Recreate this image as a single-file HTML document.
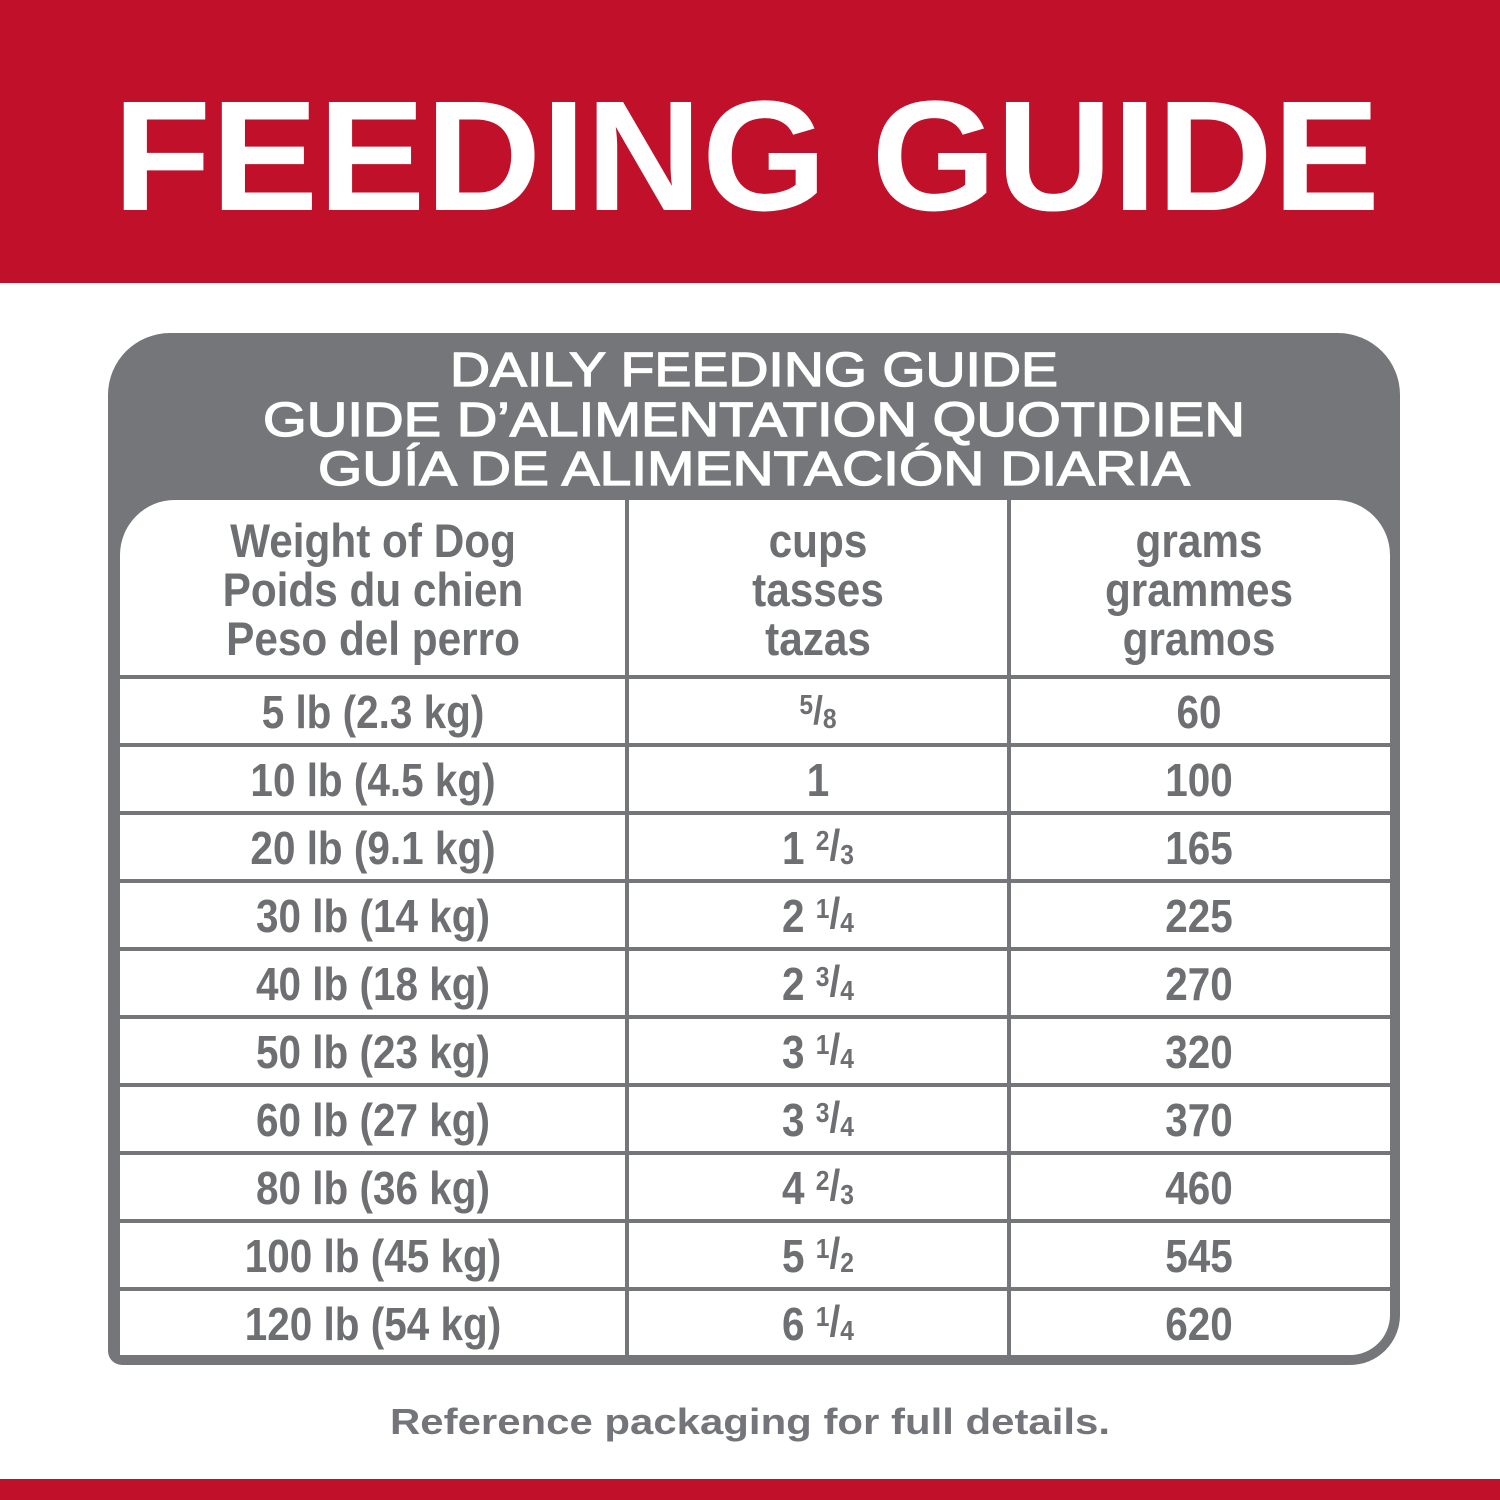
<!DOCTYPE html>
<html><head><meta charset="utf-8"><style>
html,body{margin:0;padding:0;background:#fff;}
svg{display:block;}
.t{font-family:"Liberation Sans",sans-serif;font-weight:bold;fill:#6e6f72;font-size:46px;}
.h{font-family:"Liberation Sans",sans-serif;font-weight:bold;fill:#6e6f72;font-size:47px;}
</style></head><body>
<svg width="1500" height="1500" viewBox="0 0 1500 1500" xmlns="http://www.w3.org/2000/svg">
<rect x="0" y="0" width="1500" height="283" fill="#c1112a"/>
<text x="113" y="210" font-family="Liberation Sans, sans-serif" font-weight="bold" font-size="157" fill="#fff" textLength="1267" lengthAdjust="spacingAndGlyphs">FEEDING GUIDE</text>
<rect x="0" y="1479" width="1500" height="21" fill="#c1112a"/>

<path d="M170 333 H1338 A62 62 0 0 1 1400 395 V1315 A50 50 0 0 1 1350 1365 H122 A14 14 0 0 1 108 1351 V395 A62 62 0 0 1 170 333 Z" fill="#75767a"/>
<path d="M175 500 H1335 A55 55 0 0 1 1390 555 V1315 A40 40 0 0 1 1350 1355 H120 V555 A55 55 0 0 1 175 500 Z" fill="#fff"/>

<g font-family="Liberation Sans, sans-serif" font-size="48" fill="#fff" stroke="#fff" stroke-width="1.3">
<text x="450" y="386" textLength="608" lengthAdjust="spacingAndGlyphs">DAILY FEEDING GUIDE</text>
<text x="263" y="436" textLength="982" lengthAdjust="spacingAndGlyphs">GUIDE D’ALIMENTATION QUOTIDIEN</text>
<text x="318" y="485" textLength="872" lengthAdjust="spacingAndGlyphs">GUÍA DE ALIMENTACIÓN DIARIA</text>
</g>

<g fill="#75767a">
<rect x="625" y="500" width="4" height="855"/>
<rect x="1007" y="500" width="4" height="855"/>
<rect x="120" y="675" width="1270" height="4"/>
<rect x="120" y="743" width="1270" height="4"/>
<rect x="120" y="811" width="1270" height="4"/>
<rect x="120" y="879" width="1270" height="4"/>
<rect x="120" y="947" width="1270" height="4"/>
<rect x="120" y="1015" width="1270" height="4"/>
<rect x="120" y="1083" width="1270" height="4"/>
<rect x="120" y="1151" width="1270" height="4"/>
<rect x="120" y="1219" width="1270" height="4"/>
<rect x="120" y="1287" width="1270" height="4"/>
</g>

<g class="h" text-anchor="middle">
<text transform="translate(373,557) scale(0.9,1)">Weight of Dog</text>
<text transform="translate(373,606) scale(0.9,1)">Poids du chien</text>
<text transform="translate(373,655) scale(0.9,1)">Peso del perro</text>
<text transform="translate(818,557) scale(0.9,1)">cups</text>
<text transform="translate(818,606) scale(0.9,1)">tasses</text>
<text transform="translate(818,655) scale(0.9,1)">tazas</text>
<text transform="translate(1199,557) scale(0.9,1)">grams</text>
<text transform="translate(1199,606) scale(0.9,1)">grammes</text>
<text transform="translate(1199,655) scale(0.9,1)">gramos</text>
</g>

<g class="t" text-anchor="middle">
<text transform="translate(373,728) scale(0.88,1)">5 lb (2.3 kg)</text>
<text transform="translate(373,796) scale(0.88,1)">10 lb (4.5 kg)</text>
<text transform="translate(373,864) scale(0.88,1)">20 lb (9.1 kg)</text>
<text transform="translate(373,932) scale(0.88,1)">30 lb (14 kg)</text>
<text transform="translate(373,1000) scale(0.88,1)">40 lb (18 kg)</text>
<text transform="translate(373,1068) scale(0.88,1)">50 lb (23 kg)</text>
<text transform="translate(373,1136) scale(0.88,1)">60 lb (27 kg)</text>
<text transform="translate(373,1204) scale(0.88,1)">80 lb (36 kg)</text>
<text transform="translate(373,1272) scale(0.88,1)">100 lb (45 kg)</text>
<text transform="translate(373,1340) scale(0.88,1)">120 lb (54 kg)</text>

<text transform="translate(818,728) scale(0.88,1)"><tspan font-size="28" dy="-14">5</tspan><tspan font-size="40" dy="10">/</tspan><tspan font-size="28" dy="4">8</tspan></text>
<text transform="translate(818,796) scale(0.88,1)">1</text>
<text transform="translate(818,864) scale(0.88,1)">1 <tspan font-size="28" dy="-14">2</tspan><tspan font-size="44" dy="10">/</tspan><tspan font-size="28" dy="4">3</tspan></text>
<text transform="translate(818,932) scale(0.88,1)">2 <tspan font-size="28" dy="-14">1</tspan><tspan font-size="44" dy="10">/</tspan><tspan font-size="28" dy="4">4</tspan></text>
<text transform="translate(818,1000) scale(0.88,1)">2 <tspan font-size="28" dy="-14">3</tspan><tspan font-size="44" dy="10">/</tspan><tspan font-size="28" dy="4">4</tspan></text>
<text transform="translate(818,1068) scale(0.88,1)">3 <tspan font-size="28" dy="-14">1</tspan><tspan font-size="44" dy="10">/</tspan><tspan font-size="28" dy="4">4</tspan></text>
<text transform="translate(818,1136) scale(0.88,1)">3 <tspan font-size="28" dy="-14">3</tspan><tspan font-size="44" dy="10">/</tspan><tspan font-size="28" dy="4">4</tspan></text>
<text transform="translate(818,1204) scale(0.88,1)">4 <tspan font-size="28" dy="-14">2</tspan><tspan font-size="44" dy="10">/</tspan><tspan font-size="28" dy="4">3</tspan></text>
<text transform="translate(818,1272) scale(0.88,1)">5 <tspan font-size="28" dy="-14">1</tspan><tspan font-size="44" dy="10">/</tspan><tspan font-size="28" dy="4">2</tspan></text>
<text transform="translate(818,1340) scale(0.88,1)">6 <tspan font-size="28" dy="-14">1</tspan><tspan font-size="44" dy="10">/</tspan><tspan font-size="28" dy="4">4</tspan></text>

<text transform="translate(1199,728) scale(0.88,1)">60</text>
<text transform="translate(1199,796) scale(0.88,1)">100</text>
<text transform="translate(1199,864) scale(0.88,1)">165</text>
<text transform="translate(1199,932) scale(0.88,1)">225</text>
<text transform="translate(1199,1000) scale(0.88,1)">270</text>
<text transform="translate(1199,1068) scale(0.88,1)">320</text>
<text transform="translate(1199,1136) scale(0.88,1)">370</text>
<text transform="translate(1199,1204) scale(0.88,1)">460</text>
<text transform="translate(1199,1272) scale(0.88,1)">545</text>
<text transform="translate(1199,1340) scale(0.88,1)">620</text>
</g>

<text x="390" y="1434" font-family="Liberation Sans, sans-serif" font-weight="bold" font-size="36" fill="#74757a" textLength="720" lengthAdjust="spacingAndGlyphs">Reference packaging for full details.</text>
</svg>
</body></html>
